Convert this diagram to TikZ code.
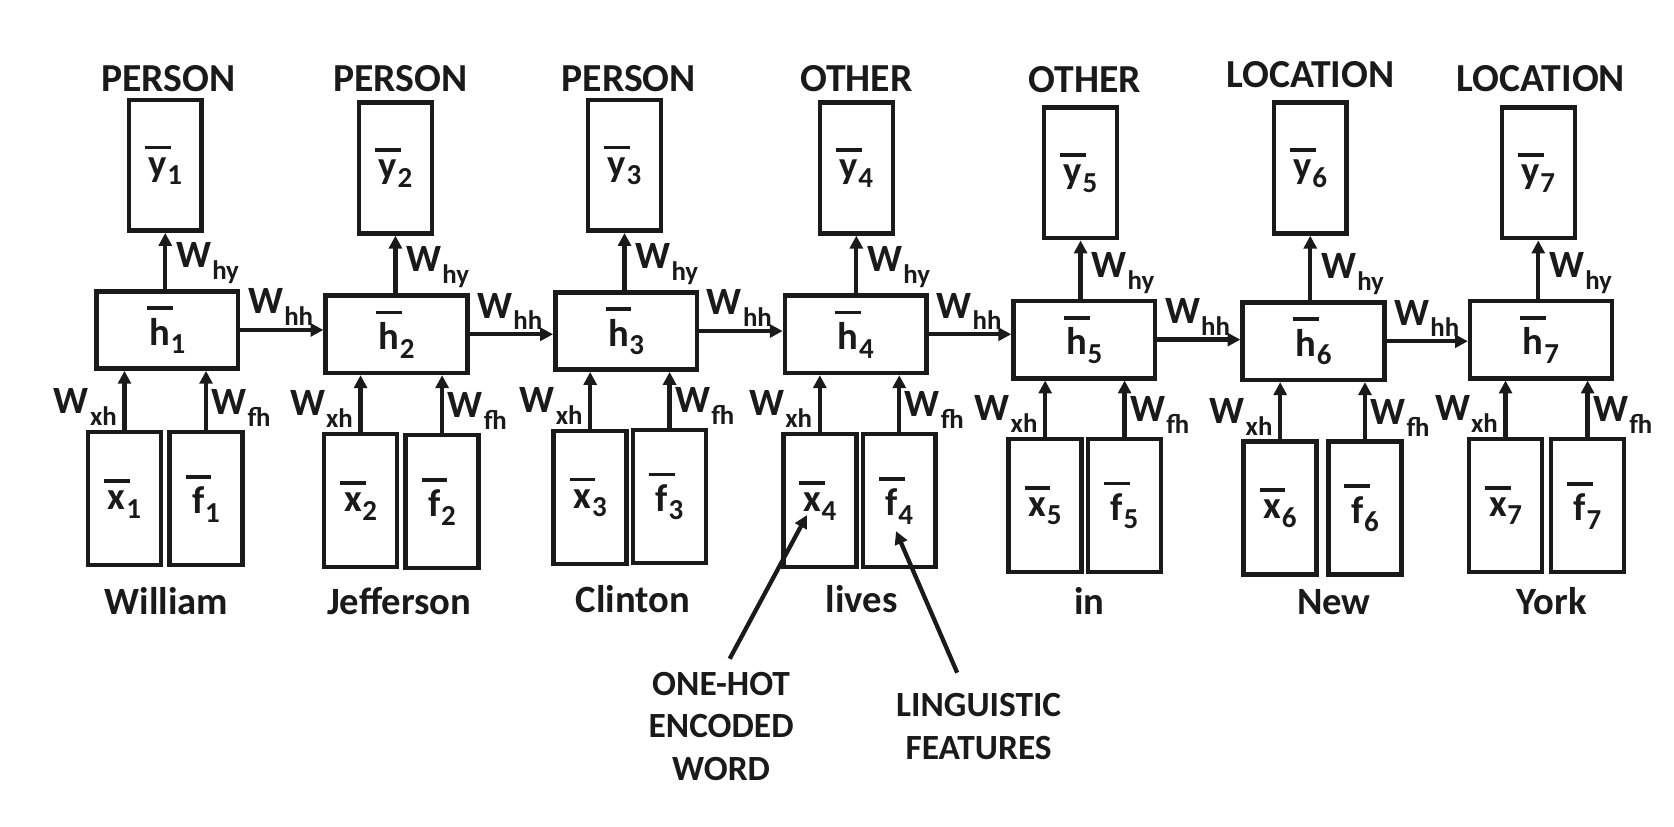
\documentclass[tikz,border=0pt]{standalone}
\usepackage{fontspec}
\setmainfont{Carlito}
\usetikzlibrary{arrows.meta,calc}
\definecolor{ink}{RGB}{26,26,26}
\newcommand\ovl[1]{\leavevmode\setbox0\hbox{#1}\hbox to \wd0{\hss\vbox{\offinterlineskip\hbox to 0pt{\hss\vrule width 24pt height 3.5pt depth 0pt\hss}\kern7.5pt\hbox to 0pt{\hss\box0\hss}}\hss}}
\newcommand\vv[2]{\ovl{#1}\kern0.5pt\raisebox{-8pt}{\fontsize{27}{27}\selectfont #2}}
\newcommand\wl[1]{W\kern1pt\raisebox{-11pt}{\fontsize{25}{25}\selectfont #1}}
\begin{document}
\begin{tikzpicture}[x=1pt,y=-1pt,
  every node/.style={inner sep=0pt, text=ink},
  outbox/.style={draw=ink, line width=4.2pt, minimum width=68pt, minimum height=122pt, font=\fontsize{36}{36}\selectfont\bfseries},
  hidbox/.style={draw=ink, line width=4.2pt, minimum width=132pt, minimum height=72pt, font=\fontsize{36}{36}\selectfont\bfseries},
  inbox/.style={draw=ink, line width=4.2pt, minimum width=68pt, minimum height=124pt, font=\fontsize{36}{36}\selectfont\bfseries},
  tag/.style={anchor=base, font=\fontsize{37}{37}\selectfont\bfseries},
  word/.style={anchor=base, font=\fontsize{36}{36}\selectfont\bfseries},
  wlab/.style={font=\fontsize{36}{36}\selectfont\bfseries},
  arr/.style={draw=ink, line width=4pt, -{Triangle[length=12pt,width=12pt]}},
  note/.style={align=center, font=\fontsize{33}{40}\selectfont\bfseries}
]
\useasboundingbox (0,0) rectangle (1560,770);

\foreach \i/\yx/\yy/\hx/\hy/\xx/\xy/\fx/\fy in {
  1/154/154/156/307.5/116/464.5/192/464.5,
  2/368.5/156.5/369.5/311.5/336/466.5/412/467.5,
  3/582/154/583.5/308.5/550/463.5/624/462.5,
  4/798/156.5/797.5/311.5/764/466.5/838/466.5,
  5/1007/161/1010.5/316.5/974/471/1048/471,
  6/1221/156.5/1224/318/1193/473.5/1272/473.5,
  7/1433.5/161/1436/316.5/1403/471/1479.5/471}{
  \node[outbox] (y\i) at (\yx,\yy) {\vv{y}{\i}};
  \node[hidbox] (h\i) at (\hx,\hy) {\vv{h}{\i}};
  \node[inbox] (x\i) at (\xx,\xy) {\vv{x}{\i}};
  \node[inbox] (f\i) at (\fx,\fy) {\vv{f}{\i}};
  \draw[arr] (y\i.south |- h\i.north) -- (y\i.south);
  \draw[arr] (x\i.north) -- (x\i.north |- h\i.south);
  \draw[arr] (f\i.north) -- (f\i.north |- h\i.south);
  \node[wlab, anchor=base west] (lhy\i) at ($(y\i.south |- h\i.north)+(10,-20)$) {\wl{hy}};
  \node[wlab, anchor=base east] (lxh\i) at ($(x\i.north)+(-7,-15)$) {\wl{xh}};
  \node[wlab, anchor=base west] (lfh\i) at ($(f\i.north)+(5,-14)$) {\wl{fh}};
}
\foreach \i/\j in {1/2,2/3,3/4,4/5,5/6,6/7}{
  \draw[arr] (h\i.east) -- (h\i.east -| h\j.west);
  \node[wlab, anchor=base west] (lhh\i) at ($(h\i.east)+(7,-15)$) {\wl{hh}};
}

\node[tag] (t1) at (157,85) {PERSON};
\node[tag] (t2) at (373,85) {PERSON};
\node[tag] (t3) at (586,85) {PERSON};
\node[tag] (t4) at (798,85) {OTHER};
\node[tag] (t5) at (1011,86) {OTHER};
\node[tag] (t6) at (1221,82) {LOCATION};
\node[tag] (t7) at (1436,85) {LOCATION};

\node[word] (w1) at (155,573) {William};
\node[word] (w2) at (372,573) {Jefferson};
\node[word] (w3) at (590,571) {Clinton};
\node[word] (w4) at (803,571) {lives};
\node[word] (w5) at (1015,573) {in};
\node[word] (w6) at (1243,573) {New};
\node[word] (w7) at (1446,573) {York};

\node[note] (onehot) at (672,677) {ONE-HOT\\ENCODED\\WORD};
\node[note] (ling) at (912,677) {LINGUISTIC\\FEATURES};
\coordinate (p1) at ($(onehot.north)+(8,-12)$);
\coordinate (q1) at ($(x4.center)+(-12,13.5)$);
\coordinate (p2) at ($(ling.north)+(-20,-19)$);
\coordinate (q2) at ($(f4.center)+(-3,28.5)$);
\draw[arr] (p1) -- (q1);
\draw[arr] (p2) -- (q2);
\end{tikzpicture}
\end{document}
